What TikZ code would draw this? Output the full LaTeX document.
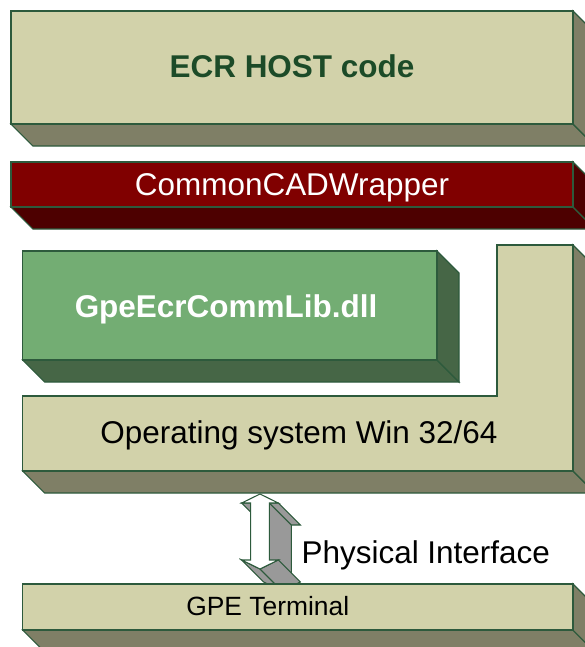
\documentclass[tikz,border=0pt]{standalone}
\usepackage{fontspec}
\setmainfont{Liberation Sans}

\definecolor{sand}{RGB}{210,210,170}
\definecolor{sandside}{RGB}{127,127,102}
\definecolor{wine}{RGB}{128,0,0}
\definecolor{wineside}{RGB}{77,0,0}
\definecolor{leaf}{RGB}{115,173,115}
\definecolor{leafside}{RGB}{70,102,70}
\definecolor{edgegreen}{RGB}{45,90,60}
\definecolor{titlegreen}{RGB}{28,75,40}
\definecolor{arrowgrey}{RGB}{153,153,153}

% depth of the extruded faces (in px units)
\def\dep{22}

% front face plus bottom and right side faces of a slab
\newcommand\blockslab[6]{%
  \filldraw[fill=#6, edgeline] (#1,#4) -- (#3,#4) -- ({#3+\dep},{#4+\dep}) -- ({#1+\dep},{#4+\dep}) -- cycle;
  \filldraw[fill=#6, edgeline] (#3,#2) -- ({#3+\dep},{#2+\dep}) -- ({#3+\dep},{#4+\dep}) -- (#3,#4) -- cycle;
  \filldraw[fill=#5, edgeline] (#1,#2) rectangle (#3,#4);
}
% one extruded side face of the block arrow
\newcommand\arrowside[2]{%
  \filldraw[fill=arrowgrey, edgeline] (#1) -- (#2) -- ([shift={(\dep,\dep)}]#2) -- ([shift={(\dep,\dep)}]#1) -- cycle;
}

\tikzset{
  edgeline/.style={draw=edgegreen, line width=0.8pt, line join=miter},
  label/.style={anchor=base, inner sep=0pt, font=\fontsize{23.6pt}{26pt}\selectfont},
  smalllabel/.style={anchor=base, inner sep=0pt, font=\fontsize{19.8pt}{22pt}\selectfont},
}

\begin{document}
\begin{tikzpicture}[x=0.75pt, y=-0.75pt]
\useasboundingbox (0,0) rectangle (585,647);
\clip (0,0) rectangle (585,647);

% host application layer
\blockslab{11}{11}{573}{124}{sand}{sandside}
\node[label, text=titlegreen, font=\fontsize{23.6pt}{26pt}\selectfont\bfseries] (ecr) at (292,77) {ECR HOST code};

% wrapper layer
\blockslab{11}{162}{573}{207}{wine}{wineside}
\node[label, text=white] (wrapper) at (292,195) {CommonCADWrapper};

% communication library
\blockslab{22.7}{251}{437}{360}{leaf}{leafside}
\node[label, text=white, font=\fontsize{23.6pt}{26pt}\selectfont\bfseries] (commlib) at (226,317) {GpeEcrCommLib.dll};

% operating system (L-shaped slab)
\filldraw[fill=sandside, edgeline] (22.7,471) -- (573,471) -- ({573+\dep},{471+\dep}) -- ({22.7+\dep},{471+\dep}) -- cycle;
\filldraw[fill=sandside, edgeline] (573,245) -- ({573+\dep},{245+\dep}) -- ({573+\dep},{471+\dep}) -- (573,471) -- cycle;
\filldraw[fill=sand, edgeline] (22.7,396) -- (497,396) -- (497,245) -- (573,245) -- (573,471) -- (22.7,471) -- cycle;
\node[label, text=black] (os) at (299,443) {Operating system Win 32/64};

% up-down block arrow
\coordinate (T)   at (260,494);
\coordinate (RH)  at (278.3,503);
\coordinate (RS)  at (269.3,503);
\coordinate (RSb) at (269.3,560);
\coordinate (RHb) at (278.3,560);
\coordinate (B)   at (260,569);
\coordinate (LHb) at (241.7,560);
\coordinate (LSb) at (250.7,560);
\coordinate (LS)  at (250.7,503);
\coordinate (LH)  at (241.7,503);
\arrowside{LS}{LH}
\arrowside{RS}{RSb}
\arrowside{RH}{RS}
\arrowside{RHb}{B}
\arrowside{B}{LHb}
\filldraw[fill=white, edgeline] (T) -- (RH) -- (RS) -- (RSb) -- (RHb) -- (B) -- (LHb) -- (LSb) -- (LS) -- (LH) -- cycle;
\node[label, text=black] (phys) at (425.8,563) {Physical Interface};

% terminal
\blockslab{22.7}{584}{573}{630}{sand}{sandside}
\node[smalllabel, text=black] (gpe) at (267.7,615) {GPE Terminal};
\end{tikzpicture}
\end{document}
